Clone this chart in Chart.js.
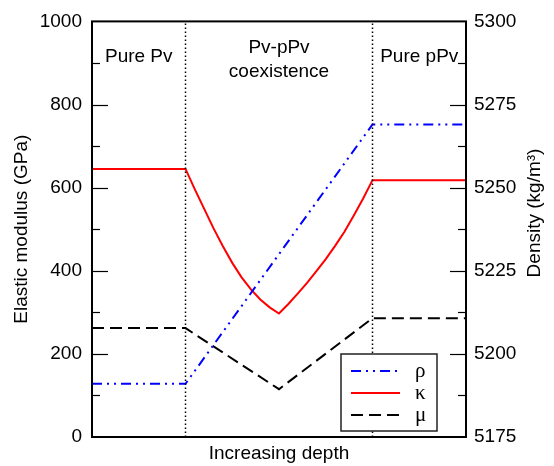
<!DOCTYPE html>
<html><head><meta charset="utf-8">
<script src="https://cdn.jsdelivr.net/npm/chart.js@4"></script>
<style>html,body{margin:0;padding:0;background:#fff}#wrap{width:554px;height:466px}</style>
</head><body><div id="wrap"><canvas id="c" width="554" height="466"></canvas></div>
<script>
// ---- data ----
const kappaX = [0, 1, 1.1, 1.2, 1.3, 1.4, 1.5, 1.6, 1.7, 1.8, 1.9, 2, 2.1, 2.2, 2.3, 2.4, 2.5, 2.6, 2.7, 2.8, 2.9, 3, 4];
const kappa  = [645, 645, 596, 549, 502, 459, 419, 384, 355, 331, 312, 297, 320, 345, 371, 399, 428, 460, 494, 533, 574, 618, 618];
const rhoX = [0, 1, 3, 4];
const rho  = [5191, 5191, 5269, 5269];
const muX = [0, 1, 2, 3, 4];
const mu  = [262, 262, 115, 286, 286];
const phaseBounds = [1, 3];
const regionLabels = [
  {lines: ["Pure Pv"], x: 0.5},
  {lines: ["Pv-pPv", "coexistence"], x: 2},
  {lines: ["Pure pPv"], x: 3.5}
];
const leftMinor = [100, 300, 500, 700, 900];
const rightMinor = [5187.5, 5212.5, 5237.5, 5262.5, 5287.5];
const leftMajor = [200, 400, 600, 800];
const rightMajor = [5200, 5225, 5250, 5275];
const xTitle = "Increasing depth";
const yLeftTitle = "Elastic modulus (GPa)";
const yRightTitle = "Density (kg/m³)";

const FONT = '"Liberation Sans", Arial, Helvetica, sans-serif';
const pts = (xs, ys) => xs.map((x, i) => ({x, y: ys[i]}));

const datasets = [];
phaseBounds.forEach(b => datasets.push({
  label: '_bound', data: [{x: b, y: 0}, {x: b, y: 1000}], yAxisID: 'yL',
  borderColor: '#000', borderWidth: 1.5, borderDash: [1.5, 2.5], pointRadius: 0, fill: false
}));
datasets.push({label: 'ρ', data: pts(rhoX, rho), yAxisID: 'yR', borderColor: '#0000ff',
  borderWidth: 2, borderDash: [10, 5, 2, 5, 2, 5], pointRadius: 0, tension: 0});
datasets.push({label: 'κ', data: pts(kappaX, kappa), yAxisID: 'yL', borderColor: '#ff0000',
  borderWidth: 2, pointRadius: 0, tension: 0});
datasets.push({label: 'μ', data: pts(muX, mu), yAxisID: 'yL', borderColor: '#000000',
  borderWidth: 2, borderDash: [12, 6], pointRadius: 0, tension: 0});

const decor = {
  id: 'decor',
  afterDatasetsDraw(chart) {
    const ctx = chart.ctx, a = chart.chartArea;
    const sx = chart.scales.x, yL = chart.scales.yL, yR = chart.scales.yR;
    ctx.save();
    // ticks
    ctx.strokeStyle = '#000'; ctx.lineWidth = 1.2;
    const tick = (x1, y, x2) => { ctx.beginPath(); ctx.moveTo(x1, y); ctx.lineTo(x2, y); ctx.stroke(); };
    leftMajor.forEach(v => { const y = Math.round(yL.getPixelForValue(v)) + 0.5; tick(a.left, y, a.left + 16); });
    leftMinor.forEach(v => { const y = Math.round(yL.getPixelForValue(v)) + 0.5; tick(a.left, y, a.left + 8); });
    rightMajor.forEach(v => { const y = Math.round(yR.getPixelForValue(v)) + 0.5; tick(a.right, y, a.right - 16); });
    rightMinor.forEach(v => { const y = Math.round(yR.getPixelForValue(v)) + 0.5; tick(a.right, y, a.right - 8); });
    // frame
    ctx.lineWidth = 2; ctx.strokeStyle = '#000';
    ctx.strokeRect(a.left, a.top, a.right - a.left, a.bottom - a.top);
    // region labels
    ctx.fillStyle = '#000'; ctx.font = '19px ' + FONT; ctx.textAlign = 'center'; ctx.textBaseline = 'alphabetic';
    regionLabels.forEach(r => {
      const x = sx.getPixelForValue(r.x);
      if (r.lines.length === 1) ctx.fillText(r.lines[0], x, 62);
      else { ctx.fillText(r.lines[0], x, 53); ctx.fillText(r.lines[1], x, 77); }
    });
    // legend
    const lx = 341, ly = 354, lw = 96, lh = 77;
    ctx.fillStyle = '#fff'; ctx.fillRect(lx, ly, lw, lh);
    ctx.strokeStyle = '#222'; ctx.lineWidth = 1.5; ctx.strokeRect(lx, ly, lw, lh);
    const items = chart.data.datasets.filter(d => d.label !== '_bound');
    items.forEach((d, i) => {
      const y = 371 + i * 22;
      ctx.beginPath(); ctx.strokeStyle = d.borderColor; ctx.lineWidth = d.borderWidth;
      ctx.setLineDash(d.borderDash || []);
      ctx.moveTo(351, y); ctx.lineTo(400, y); ctx.stroke();
      ctx.setLineDash([]);
      ctx.fillStyle = '#000'; ctx.font = '21px "Liberation Serif", serif';
      ctx.textAlign = 'left'; ctx.textBaseline = 'middle';
      ctx.fillText(d.label, 415, y);
    });
    // axis titles
    ctx.fillStyle = '#000'; ctx.font = '19px ' + FONT; ctx.textAlign = 'center'; ctx.textBaseline = 'middle';
    ctx.fillText(xTitle, (a.left + a.right) / 2, 454);
    ctx.save(); ctx.translate(22, (a.top + a.bottom) / 2); ctx.rotate(-Math.PI / 2);
    ctx.fillText(yLeftTitle, 0, 0); ctx.restore();
    ctx.save(); ctx.translate(535, 213); ctx.rotate(-Math.PI / 2);
    ctx.fillText(yRightTitle, 0, 0); ctx.restore();
    ctx.restore();
  }
};

new Chart(document.getElementById('c'), {
  type: 'line',
  data: {datasets},
  options: {
    responsive: false, animation: false, devicePixelRatio: 1,
    layout: {padding: {top: 21, left: 0, right: 0, bottom: 0}},
    plugins: {legend: {display: false}, tooltip: {enabled: false}},
    elements: {line: {borderCapStyle: 'butt'}},
    scales: {
      x: {type: 'linear', min: 0, max: 4, ticks: {display: false},
          grid: {display: false, drawTicks: false}, border: {display: false},
          afterFit: s => { s.height = 29; }},
      yL: {position: 'left', min: 0, max: 1000,
           ticks: {stepSize: 200, padding: 10, color: '#000', font: {family: FONT, size: 19},
                   callback: v => String(v)},
           grid: {display: false, drawTicks: false}, border: {display: false},
           afterFit: s => { s.width = 92; }},
      yR: {position: 'right', min: 5175, max: 5300,
           ticks: {stepSize: 25, padding: 8, color: '#000', font: {family: FONT, size: 19},
                   callback: v => String(v)},
           grid: {display: false, drawTicks: false}, border: {display: false},
           afterFit: s => { s.width = 88; }}
    }
  },
  plugins: [decor]
});
</script></body></html>
